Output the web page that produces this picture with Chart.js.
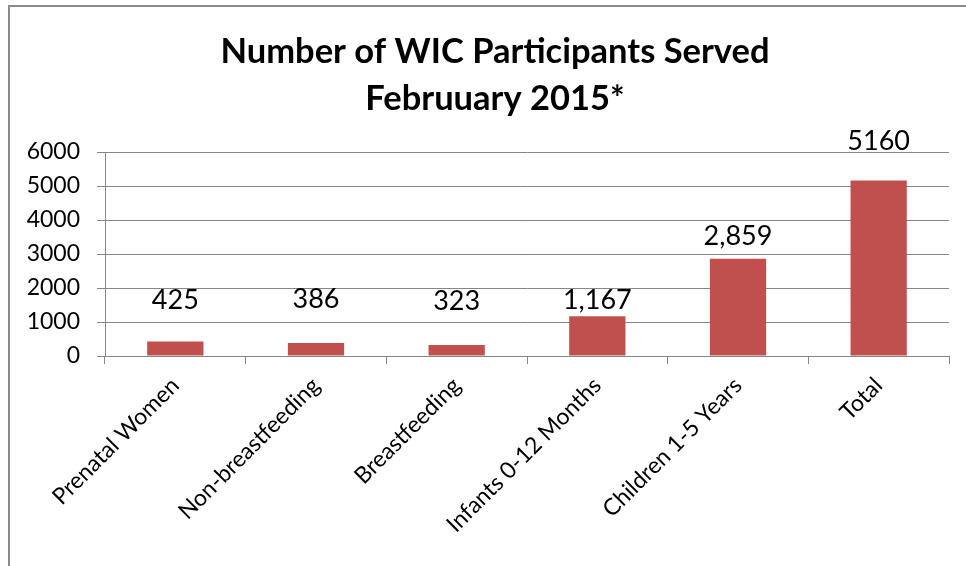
<!DOCTYPE html>
<html>
<head>
<meta charset="utf-8">
<script src="https://cdn.jsdelivr.net/npm/chart.js@4/dist/chart.umd.min.js"></script>
<style>
  html, body { margin: 0; padding: 0; background: #fff; overflow: hidden; }
  #wrap { position: relative; width: 966px; height: 566px; }
  #frame { position: absolute; left: 8px; top: 5px; width: 1000px; height: 1000px;
           border-top: 2px solid #8c8c8c; border-left: 2px solid #8c8c8c; pointer-events: none; }
  canvas { position: absolute; left: 0; top: 0; }
</style>
</head>
<body>
<div id="wrap">
  <canvas id="c" width="966" height="566"></canvas>
  <div id="frame"></div>
</div>
<script>
const categories = ["Prenatal Women", "Non-breastfeeding", "Breastfeeding", "Infants 0-12 Months", "Children 1-5 Years", "Total"];
const participants = [425, 386, 323, 1167, 2859, 5160];
const valueLabels = ["425", "386", "323", "1,167", "2,859", "5160"];
const titleLines = ["Number of WIC Participants Served", "Februuary 2015*"];
const yTicks = { min: 0, max: 6000, step: 1000 };

const FONT = "Lato, 'Open Sans', sans-serif";
const GRID = "#868686";

const valueLabelPlugin = {
  id: 'valueLabels',
  afterLayout(chart) {
    // centre the title over the original (wider) chart object, as in the source
    if (chart.titleBlock) { chart.titleBlock.left = 41; chart.titleBlock.right = 949; }
  },
  afterDatasetsDraw(chart, args, opts) {
    const ctx = chart.ctx;
    const meta = chart.getDatasetMeta(0);
    ctx.save();
    ctx.font = opts.font;
    ctx.fillStyle = '#000';
    ctx.textAlign = 'center';
    ctx.textBaseline = 'middle';
    meta.data.forEach((bar, i) => {
      ctx.fillText(valueLabels[i], bar.x, bar.y - opts.lift[i]);
    });
    ctx.restore();
  }
};

new Chart(document.getElementById('c'), {
  type: 'bar',
  data: {
    labels: categories,
    datasets: [{
      data: participants,
      backgroundColor: '#C0504D',
      borderWidth: 0,
      categoryPercentage: 1.0,
      barPercentage: 0.4
    }]
  },
  plugins: [valueLabelPlugin],
  options: {
    responsive: false,
    animation: false,
    layout: { padding: { top: 0, left: 0, right: 17, bottom: 0 } },
    plugins: {
      legend: { display: false },
      tooltip: { enabled: false },
      title: {
        display: true,
        text: titleLines,
        color: '#000',
        font: { family: FONT, size: 34.5, weight: 'bold', lineHeight: '47px' },
        padding: { top: 28, bottom: 30 }
      },
      valueLabels: {
        font: "27px " + FONT,
        lift: [41, 44, 44, 16, 22, 39]
      }
    },
    scales: {
      x: {
        offset: true,
        grid: { display: true, offset: true, drawOnChartArea: false, color: GRID, tickLength: 8, tickColor: GRID },
        border: { color: GRID, width: 1 },
        ticks: { color: '#000', font: { family: FONT, size: 23 }, minRotation: 45, maxRotation: 45, padding: 8, autoSkip: false },
        afterFit(scale) { scale.height = 210; }
      },
      y: {
        min: yTicks.min,
        max: yTicks.max,
        grid: { color: GRID, tickLength: 8, tickColor: GRID },
        border: { color: GRID, width: 1 },
        ticks: { stepSize: yTicks.step, color: '#000', font: { family: FONT, size: 23 }, padding: 17,
                 callback: (v) => String(v) },
        afterFit(scale) { scale.width = 105; }
      }
    }
  }
});
</script>
</body>
</html>
